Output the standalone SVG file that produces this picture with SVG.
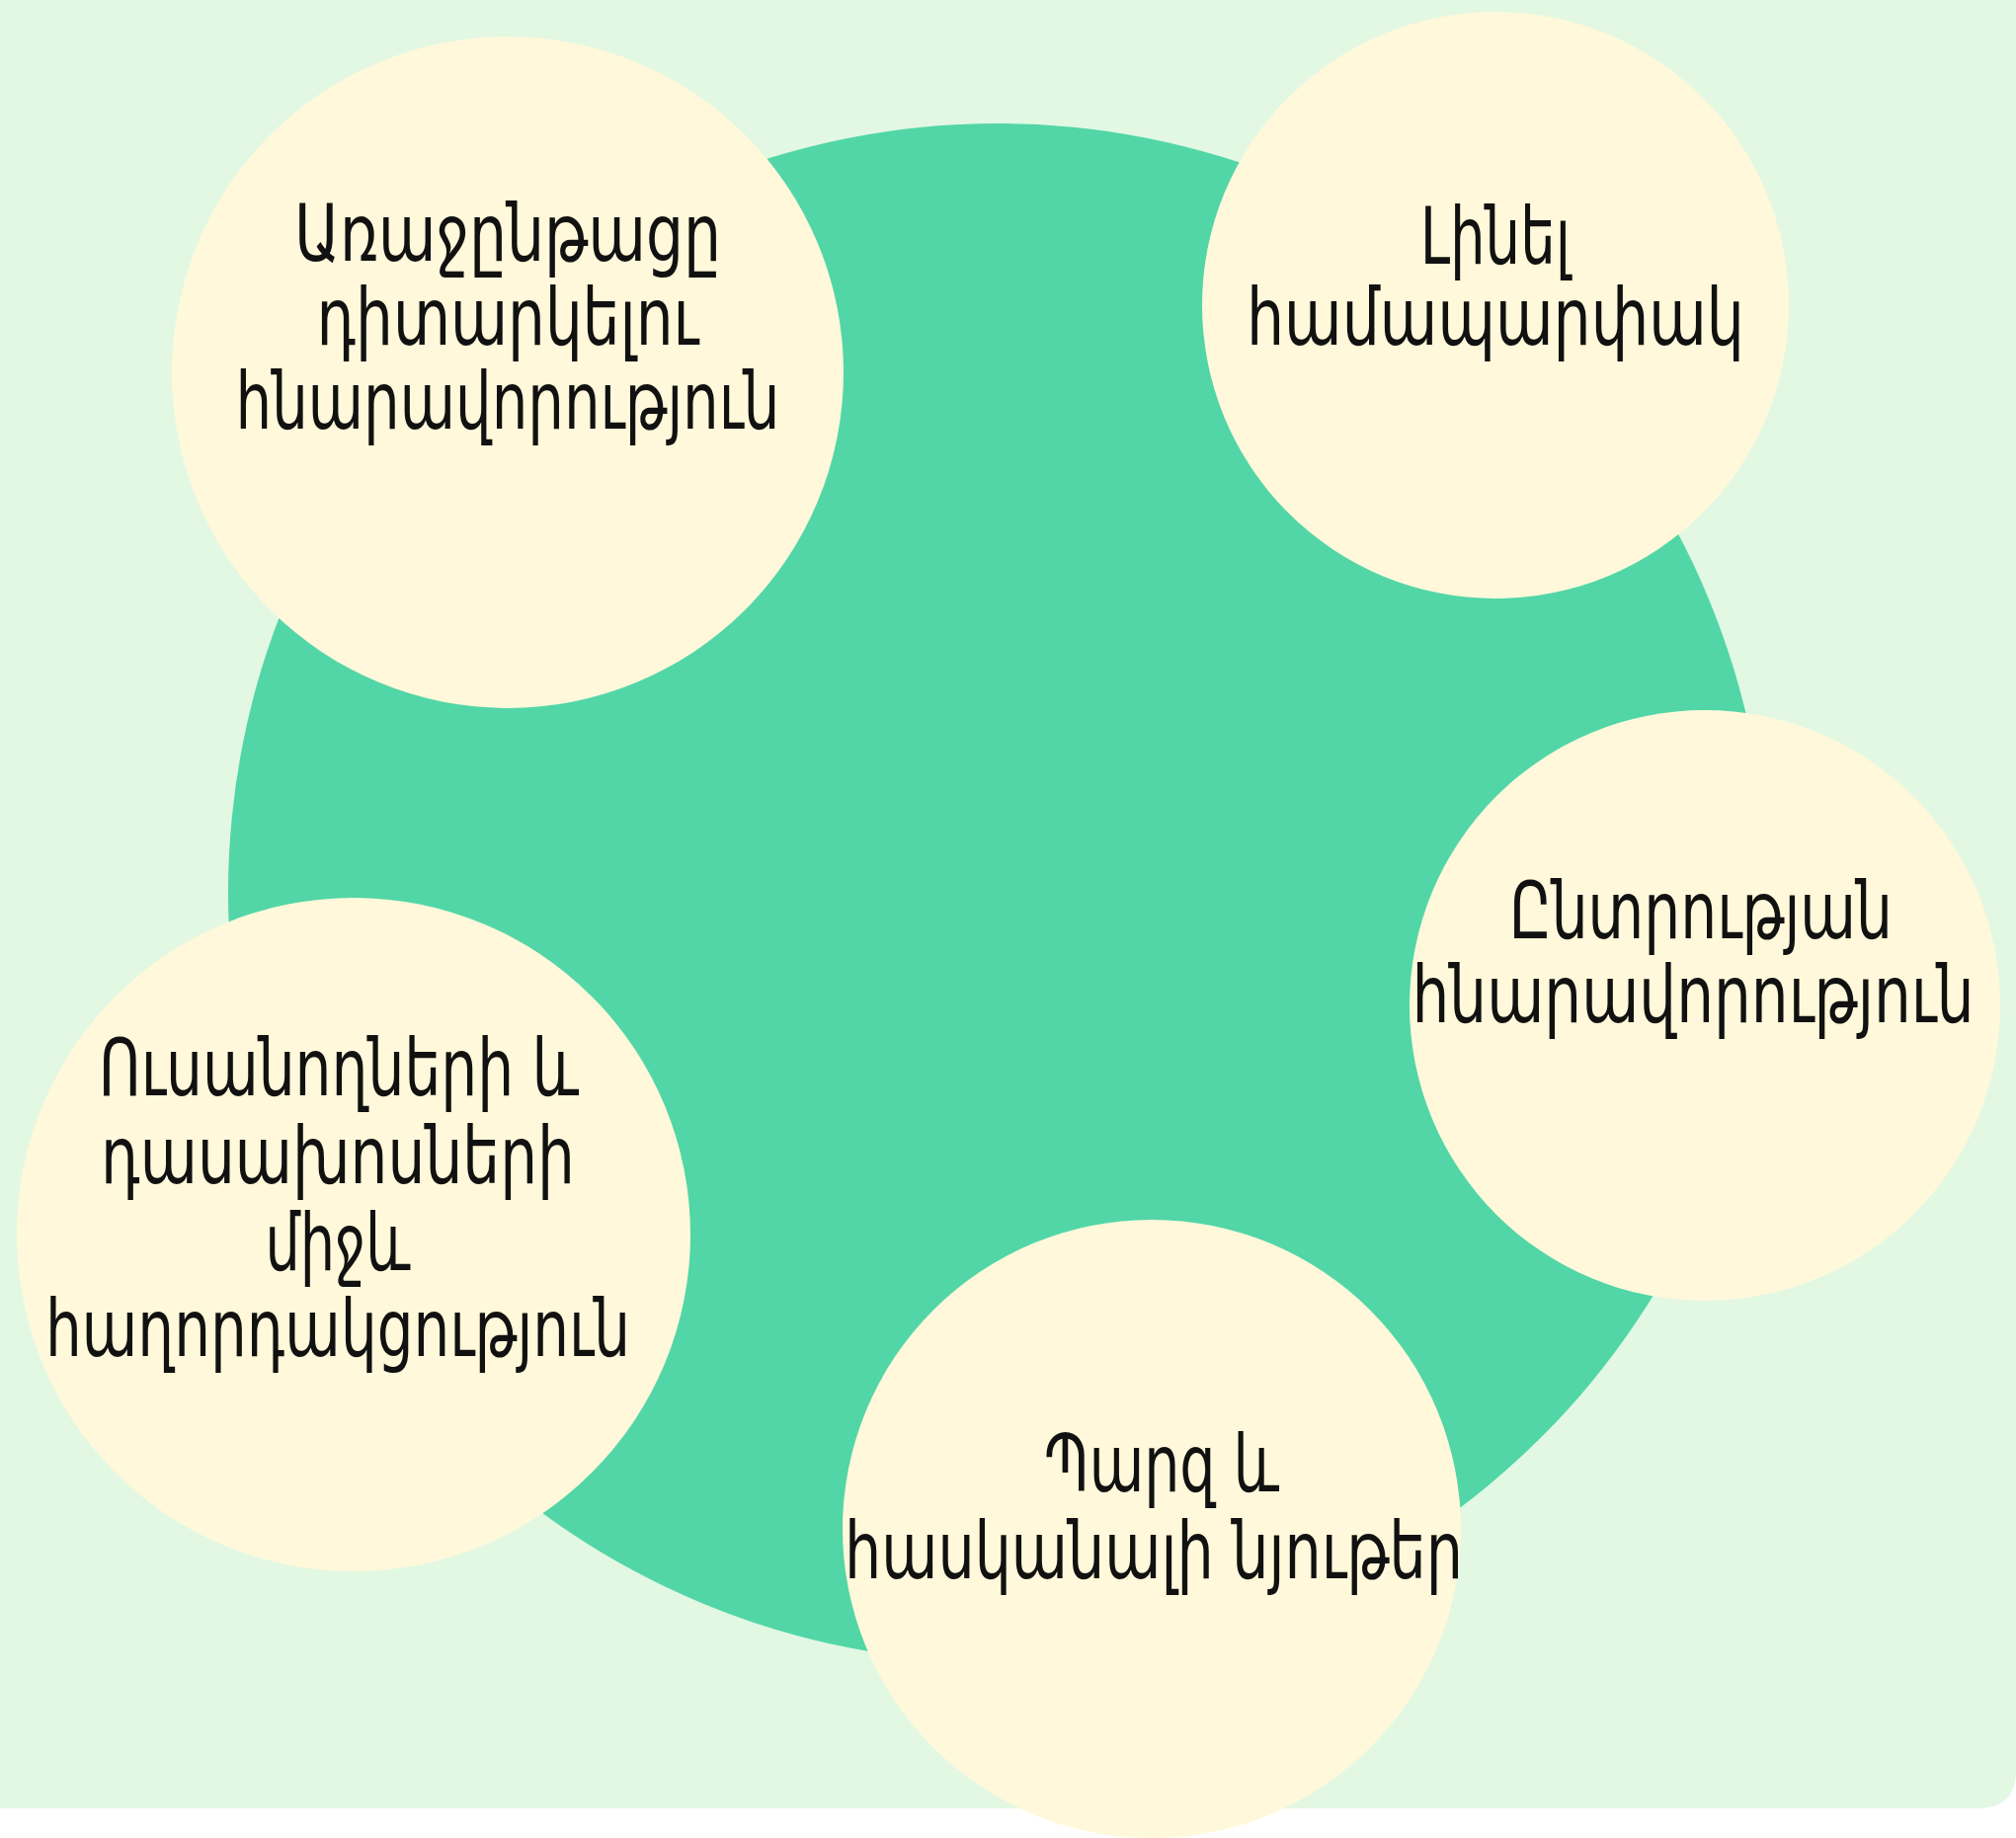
<svg xmlns="http://www.w3.org/2000/svg" width="2041" height="1861" viewBox="0 0 2041 1861">
<style>
.bubble{fill:#FFF8DA;}
.lbl{font-family:"DejaVu Sans","Noto Sans",sans-serif;font-size:80px;fill:#111;text-anchor:middle;}
</style>
<rect x="0" y="0" width="2041" height="1861" fill="#FFFFFF"/>
<path d="M0 0 H2041 V1793 Q2041 1831 2003 1831 H0 Z" fill="#E2F8E3"/>
<g id="hub"><circle cx="1010" cy="904" r="779" fill="#52D6A7"/></g>
<g id="connectors"></g>
<g id="node1"><circle class="bubble" cx="514" cy="377" r="340"/>
<text class="lbl" x="514" y="264" textLength="432" lengthAdjust="spacingAndGlyphs">Առաջընթացը</text>
<text class="lbl" x="514" y="349" textLength="387" lengthAdjust="spacingAndGlyphs">դիտարկելու</text>
<text class="lbl" x="514" y="434" textLength="551" lengthAdjust="spacingAndGlyphs">հնարավորություն</text></g>
<g id="node2"><circle class="bubble" cx="1514" cy="309" r="297"/>
<text class="lbl" x="1514" y="267" textLength="152" lengthAdjust="spacingAndGlyphs">Լինել</text>
<text class="lbl" x="1514" y="349" textLength="504" lengthAdjust="spacingAndGlyphs">համապարփակ</text></g>
<g id="node3"><circle class="bubble" cx="1726" cy="1018" r="299"/>
<text class="lbl" x="1722" y="950" textLength="388" lengthAdjust="spacingAndGlyphs">Ընտրության</text>
<text class="lbl" x="1714" y="1035" textLength="569" lengthAdjust="spacingAndGlyphs">հնարավորություն</text></g>
<g id="node4"><circle class="bubble" cx="1166" cy="1548" r="313"/>
<text class="lbl" x="1176" y="1510" textLength="238" lengthAdjust="spacingAndGlyphs">Պարզ և</text>
<text class="lbl" x="1168" y="1598" textLength="626" lengthAdjust="spacingAndGlyphs">հասկանալի նյութեր</text></g>
<g id="node5"><circle class="bubble" cx="358" cy="1250" r="341"/>
<text class="lbl" x="343" y="1109" textLength="486" lengthAdjust="spacingAndGlyphs">Ուսանողների և</text>
<text class="lbl" x="342" y="1198" textLength="480" lengthAdjust="spacingAndGlyphs">դասախոսների</text>
<text class="lbl" x="342" y="1286" textLength="147" lengthAdjust="spacingAndGlyphs">միջև</text>
<text class="lbl" x="342" y="1373" textLength="592" lengthAdjust="spacingAndGlyphs">հաղորդակցություն</text></g>
</svg>
